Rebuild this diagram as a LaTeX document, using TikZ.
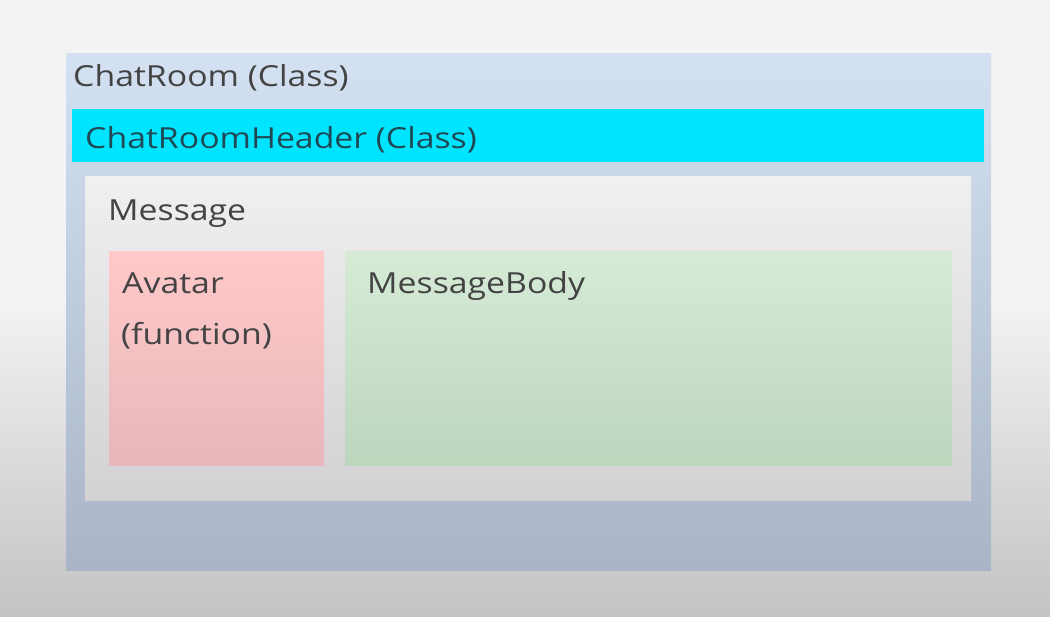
\documentclass[tikz,border=0pt]{standalone}
\usepackage{fontspec}
\setmainfont[FakeStretch=1.165]{Open Sans}
\definecolor{txt}{HTML}{434343}
\definecolor{bgtop}{HTML}{F3F3F3}
\definecolor{bgbot}{HTML}{C3C3C3}
\definecolor{roomtop}{HTML}{D3E1F3}
\definecolor{roombot}{HTML}{A9B5C7}
\definecolor{headfill}{HTML}{00E5FF}
\definecolor{headtxt}{HTML}{1F4A55}
\definecolor{msgtop}{HTML}{F0EFF1}
\definecolor{msgbot}{HTML}{D3D1D4}
\definecolor{avtop}{HTML}{FFC9C9}
\definecolor{avbot}{HTML}{E8B7BB}
\definecolor{bodytop}{HTML}{D6EBD6}
\definecolor{bodybot}{HTML}{BCD5BD}
\begin{document}
\begin{tikzpicture}[x=1pt,y=-1pt,
  box/.style={rectangle,draw=none,inner sep=0pt,anchor=north west},
  lbl/.style={anchor=base west,inner sep=0pt,text=txt,font=\fontsize{29}{35}\selectfont}]
\useasboundingbox (0,0) rectangle (1050,617);
% background
\fill[bgtop] (0,0) rectangle (1050,300);
\shade[top color=bgtop,bottom color=bgbot] (0,300) rectangle (1050,617);
% outer ChatRoom
\node[box,minimum width=925pt,minimum height=517pt,top color=roomtop,bottom color=roombot] (chatroom) at (66,53) {};
\node[lbl] (chatroomlbl) at (73,87) {ChatRoom (Class)};
% header
\node[box,minimum width=912pt,minimum height=53pt,fill=headfill] (header) at (72,109) {};
\node[lbl,text=headtxt] (headerlbl) at (85,149) {ChatRoomHeader (Class)};
% Message
\node[box,minimum width=886pt,minimum height=324pt,top color=msgtop,bottom color=msgbot] (message) at (85,176) {};
\node[lbl] (messagelbl) at (108,221) {Message};
% Avatar
\node[box,minimum width=215pt,minimum height=214pt,top color=avtop,bottom color=avbot] (avatar) at (109,251) {};
\node[lbl] (avatarlbl1) at (122,294) {Avatar};
\node[lbl] (avatarlbl2) at (121,345) {(function)};
% MessageBody
\node[box,minimum width=607pt,minimum height=214pt,top color=bodytop,bottom color=bodybot] (body) at (345,251) {};
\node[lbl] (bodylbl) at (367,294) {MessageBody};
\end{tikzpicture}
\end{document}
